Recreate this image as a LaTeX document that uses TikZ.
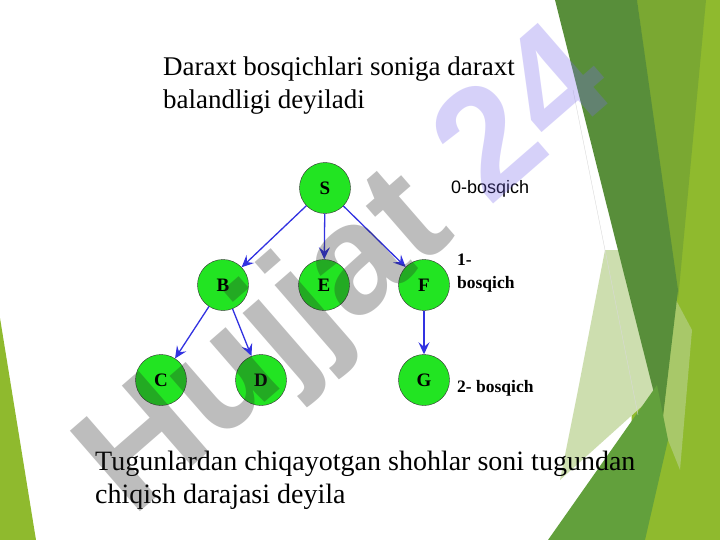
\documentclass[tikz,border=0pt]{standalone}
\usepackage{fontspec}
\setmainfont{Liberation Serif}
\newfontfamily\arialfont{Liberation Sans}
\usetikzlibrary{arrows.meta}

\definecolor{nodegreen}{RGB}{34,228,34}
\definecolor{linkblue}{RGB}{50,50,225}
\definecolor{darkleaf}{RGB}{88,142,58}
\definecolor{oliveleaf}{RGB}{122,168,50}
\definecolor{limeleaf}{RGB}{143,186,46}
\definecolor{midleaf}{RGB}{98,160,60}
\definecolor{paleleaf}{RGB}{205,222,175}
\definecolor{softleaf}{RGB}{168,200,105}
\definecolor{markgray}{RGB}{38,38,38}
\definecolor{marklav}{RGB}{122,105,238}

\begin{document}
\begin{tikzpicture}[x=1pt,y=-1pt]
            \tikzstyle{vertex}=[circle,draw=black!80,fill=nodegreen,minimum size=51pt,inner sep=0pt,font=\bfseries\fontsize{19}{19}\selectfont]
            \tikzstyle{link}=[draw=linkblue,line width=1.3pt,-{Stealth[length=12pt,width=11pt,inset=4.5pt]}]
            \tikzstyle{stagetext}=[anchor=base west,inner sep=0pt]
            \useasboundingbox (0,0) rectangle (720,540);
            \fill[white] (0,0) rectangle (720,540);

            % slide background
            \fill[limeleaf] (0,318) -- (36,540) -- (0,540) -- cycle;
            \fill[limeleaf] (637,0) -- (720,0) -- (720,540) -- (630,540) -- cycle;
            \fill[oliveleaf] (637,0) -- (706,0) -- (678,300) -- cycle;
            \fill[softleaf] (676,300) -- (692,330) -- (680,470) -- (662,425) -- cycle;
            \fill[paleleaf] (605,250) -- (625,250) -- (660,390) -- (560,480) -- (578,390) -- cycle;
            \fill[darkleaf] (555,0) -- (637,0) -- (678,290) -- (662,425) -- cycle;
            \fill[midleaf] (548,540) -- (657,385) -- (668,440) -- (645,540) -- cycle;
            \draw[black!15,line width=0.4pt] (573,90) -- (638,415);

            \node[anchor=base west,inner sep=0pt,font=\fontsize{27}{33}\selectfont] (title-a) at (163,76) {Daraxt bosqichlari soniga daraxt};
            \node[anchor=base west,inner sep=0pt,font=\fontsize{27}{33}\selectfont] (title-b) at (163,109) {balandligi deyiladi};

            \foreach \name/\x/\y in {S/325/188, B/223/285, E/324/285, F/424/285, C/161/380, D/261/380, G/424/380}
                    \node[vertex] (V-\name) at (\x,\y) {\name};

                \foreach \from/\to in {S/B, S/E, S/F, B/C, B/D, F/G}
                    \draw[link] (V-\from) -- (V-\to);

            \node[stagetext,font=\arialfont\fontsize{18}{18}\selectfont] (lvl-0) at (451,194) {0-bosqich};
            \node[stagetext,font=\bfseries\fontsize{17.5}{17.5}\selectfont] (lvl-1a) at (457,265) {1-};
            \node[stagetext,font=\bfseries\fontsize{17.5}{17.5}\selectfont] (lvl-1b) at (457,288) {bosqich};
            \node[stagetext,font=\bfseries\fontsize{17.5}{17.5}\selectfont] (lvl-2) at (457,392) {2- bosqich};

            \node[anchor=base west,inner sep=0pt,font=\fontsize{28}{33}\selectfont] (note-a) at (95,470) {Tugunlardan chiqayotgan shohlar soni tugundan};
            \node[anchor=base west,inner sep=0pt,font=\fontsize{28}{33}\selectfont] (note-b) at (95,503) {chiqish darajasi deyila};

            % watermark
            \node[rotate=41,text opacity=0.3,inner sep=0pt,font=\arialfont\bfseries\fontsize{155}{155}\selectfont] (mark) at (350,276) {\textcolor{markgray}{Hujjat} \textcolor{marklav}{24}};
        \end{tikzpicture}
\end{document}
